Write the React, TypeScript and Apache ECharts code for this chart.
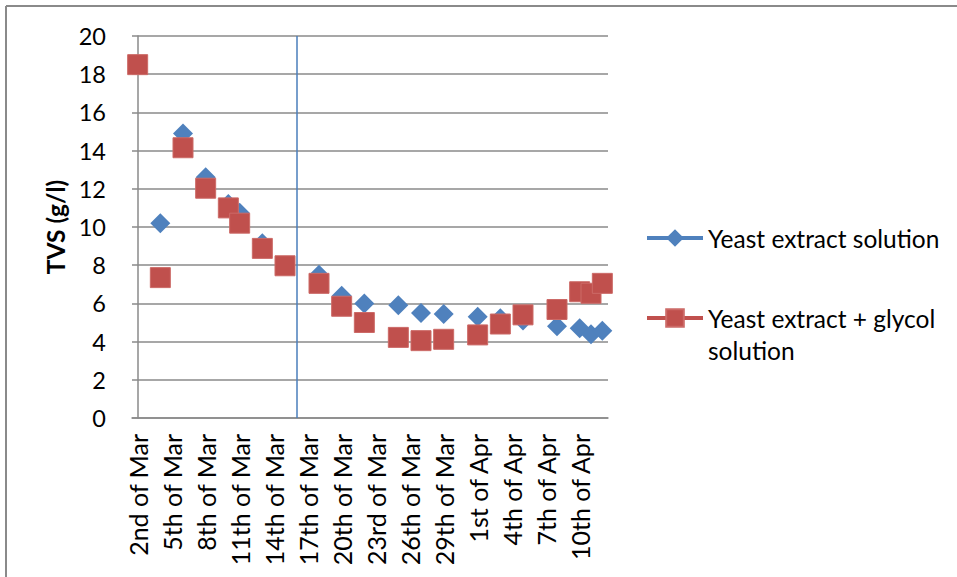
import React, { useEffect, useRef } from "react";
import * as echarts from "echarts";

// Days counted from the 2nd of March (day 0)
const tickLabels = [
  "2nd of Mar", "5th of Mar", "8th of Mar", "11th of Mar", "14th of Mar",
  "17th of Mar", "20th of Mar", "23rd of Mar", "26th of Mar", "29th of Mar",
  "1st of Apr", "4th of Apr", "7th of Apr", "10th of Apr",
];
const tickStepDays = 3;
const lastDay = 41; // 12th of Apr

const yeastDays = [2, 4, 6, 8, 9, 11, 16, 18, 20, 23, 25, 27, 30, 32, 34, 37, 39, 40, 41];
const yeastValues = [10.2, 14.9, 12.6, 11.2, 10.75, 9.15, 7.5, 6.4, 6.0, 5.9, 5.5, 5.45, 5.3, 5.22, 5.1, 4.8, 4.7, 4.38, 4.57];

const glycolDays = [0, 2, 4, 6, 8, 9, 11, 13, 16, 18, 20, 23, 25, 27, 30, 32, 34, 37, 39, 40, 41];
const glycolValues = [18.5, 7.35, 14.15, 12.03, 11.0, 10.2, 8.88, 7.97, 7.05, 5.85, 5.0, 4.22, 4.05, 4.12, 4.35, 4.92, 5.4, 5.68, 6.61, 6.53, 7.05];

const markerDay = 14; // vertical reference line (16th of Mar)

const seriesNames = ["Yeast extract solution", "Yeast extract + glycol solution"];

const FONT = "Lato, 'Noto Sans', sans-serif";
const GRID_COLOR = "#8a8a8a";

export default function App() {
  const ref = useRef<HTMLDivElement>(null);

  useEffect(() => {
    if (!ref.current) return;
    const chart = echarts.init(ref.current, undefined, { renderer: "svg" });
    const tickValues = tickLabels.map((_, i) => i * tickStepDays);

    const legendCommon = {
      orient: "vertical",
      left: 645,
      padding: 0,
      itemWidth: 56,
      itemHeight: 22,
      lineStyle: { width: 4, opacity: 1 },
      textStyle: { fontSize: 24.5, fontFamily: FONT, color: "#000", lineHeight: 32 },
      selectedMode: false,
    };

    chart.setOption({
      animation: false,
      backgroundColor: "#ffffff",
      textStyle: { fontFamily: FONT, color: "#000" },
      grid: { left: 132, top: 36, right: 349, bottom: 159, containLabel: false },
      xAxis: {
        type: "value",
        min: -0.5,
        max: lastDay + 0.5,
        splitLine: { show: false },
        axisLine: { show: true, lineStyle: { color: GRID_COLOR, width: 1.5 } },
        axisTick: { show: false },
        axisLabel: {
          customValues: tickValues,
          rotate: 90,
          margin: 16,
          fontSize: 25,
          fontFamily: FONT,
          color: "#000",
          formatter: (v: number) => tickLabels[Math.round(v / tickStepDays)] ?? "",
        },
      },
      yAxis: {
        type: "value",
        min: 0,
        max: 20,
        interval: 2,
        name: "TVS (g/l)",
        nameLocation: "middle",
        nameGap: 64,
        nameTextStyle: { fontSize: 24.5, fontWeight: "bold", fontFamily: FONT, color: "#000" },
        axisLine: { show: true, lineStyle: { color: GRID_COLOR, width: 1.5 } },
        axisTick: { show: false },
        axisLabel: { fontSize: 23.5, margin: 26, fontFamily: FONT, color: "#000" },
        splitLine: { show: true, lineStyle: { color: GRID_COLOR, width: 1.5 } },
      },
      legend: [
        {
          ...legendCommon,
          data: [seriesNames[0]],
          top: 222,
        },
        {
          ...legendCommon,
          data: [seriesNames[1]],
          top: 270,
          formatter: () => "\nYeast extract + glycol\nsolution",
        },
      ],
      graphic: [
        { type: "line", shape: { x1: 6, y1: 6, x2: 957, y2: 6 }, style: { stroke: GRID_COLOR, lineWidth: 2 } },
        { type: "line", shape: { x1: 6, y1: 6, x2: 6, y2: 577 }, style: { stroke: GRID_COLOR, lineWidth: 2 } },
      ],
      series: [
        {
          name: seriesNames[0],
          type: "line",
          data: yeastDays.map((d, i) => [d, yeastValues[i]]),
          symbol: "diamond",
          symbolSize: 20,
          showSymbol: true,
          color: "#4F81BD",
          itemStyle: { color: "#4F81BD" },
          lineStyle: { width: 0, opacity: 0 },
          markLine: {
            silent: true,
            symbol: "none",
            label: { show: false },
            lineStyle: { color: "#4A7EBB", width: 1.5, type: "solid" },
            data: [{ xAxis: markerDay }],
          },
          z: 2,
        },
        {
          name: seriesNames[1],
          type: "line",
          data: glycolDays.map((d, i) => [d, glycolValues[i]]),
          symbol: "rect",
          symbolSize: 20,
          showSymbol: true,
          color: "#C0504D",
          itemStyle: { color: "#C0504D", borderColor: "#CC6A67", borderWidth: 1 },
          lineStyle: { width: 0, opacity: 0 },
          z: 3,
        },
      ],
    });

    return () => chart.dispose();
  }, []);

  return (
    <div
      ref={ref}
      style={{ position: "fixed", left: 0, top: 0, width: 957, height: 577 }}
    />
  );
}
